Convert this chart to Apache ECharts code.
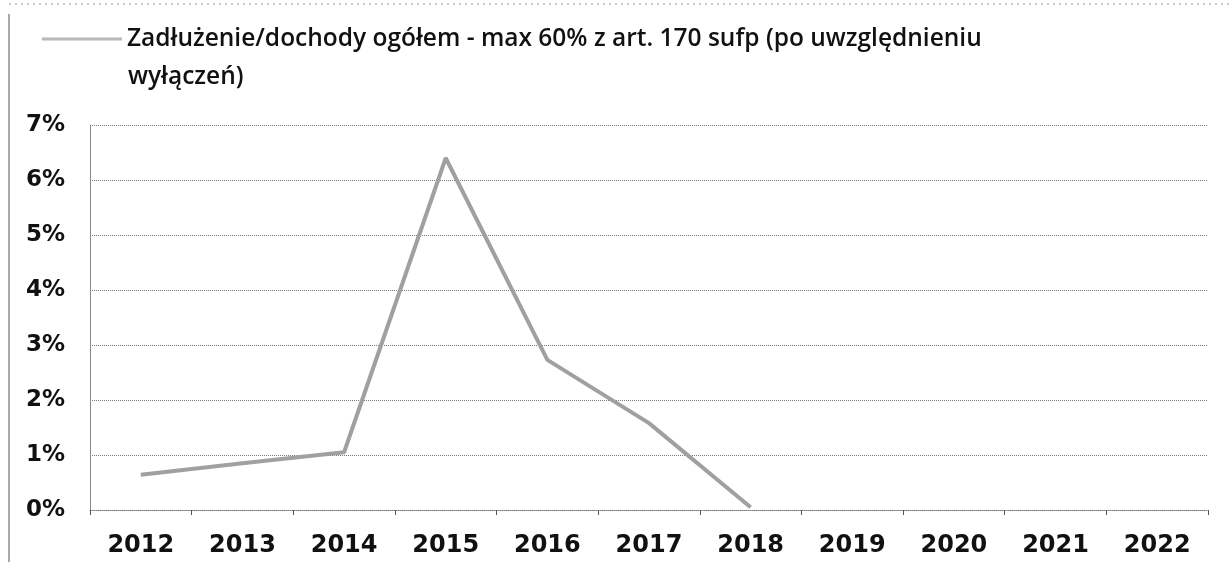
<!DOCTYPE html>
<html>
<head>
<meta charset="utf-8">
<script src="https://cdn.jsdelivr.net/npm/echarts@6/dist/echarts.min.js"></script>
<style>
  html, body { margin: 0; padding: 0; background: #fff; }
  #chart { width: 1232px; height: 562px; }
</style>
</head>
<body>
<div id="chart"></div>
<script>
const years = ['2012', '2013', '2014', '2015', '2016', '2017', '2018', '2019', '2020', '2021', '2022'];
const debtRatio = [0.0064, 0.0085, 0.0105, 0.064, 0.0273, 0.0158, 0.0005, null, null, null, null];
const seriesName = 'Zadłużenie/dochody ogółem - max 60% z art. 170 sufp (po uwzględnieniu';
const nameTail = 'wyłączeń)';

const chartDom = document.getElementById('chart');
const mychart = echarts.init(chartDom);

const titleFont = {
  fontFamily: 'Open Sans',
  fontWeight: 600,
  fontSize: 24.5,
  color: '#111',
  lineHeight: 28
};

const option = {
  animation: false,
  backgroundColor: '#fff',
  // second line of the wrapped legend entry
  title: {
    text: nameTail,
    left: 128,
    top: 63,
    padding: 0,
    textStyle: titleFont
  },
  legend: {
    data: [seriesName],
    left: 42,
    top: 25,
    padding: 0,
    itemWidth: 80,
    itemHeight: 3,
    itemGap: 6,
    icon: 'rect',
    itemStyle: { color: '#b8b8b8' },
    textStyle: titleFont
  },
  grid: {
    left: 90,
    right: 24,
    top: 125,
    bottom: 52,
    containLabel: false
  },
  xAxis: {
    type: 'category',
    data: years,
    boundaryGap: true,
    axisLine: { show: true, lineStyle: { color: '#777', type: 'dotted', width: 1 } },
    axisTick: { show: true, length: 5, lineStyle: { color: '#555' } },
    axisLabel: {
      margin: 24,
      fontFamily: 'DejaVu Sans',
      fontWeight: 'bold',
      fontSize: 24,
      color: '#111'
    },
    splitLine: { show: false }
  },
  yAxis: {
    type: 'value',
    min: 0,
    max: 0.07,
    interval: 0.01,
    axisLine: { show: true, lineStyle: { color: '#888', width: 1 } },
    axisTick: { show: false },
    axisLabel: {
      margin: 25,
      fontFamily: 'DejaVu Sans',
      fontWeight: 'bold',
      fontSize: 23,
      color: '#111',
      formatter: function (v) { return Math.round(v * 100) + '%'; }
    },
    splitLine: { show: true, lineStyle: { color: '#777', type: 'dotted', width: 1 } }
  },
  graphic: [
    { type: 'line', shape: { x1: 9, y1: 14, x2: 9, y2: 562 }, style: { stroke: '#555', lineWidth: 1 } },
    { type: 'line', shape: { x1: 9, y1: 4, x2: 1232, y2: 4 }, style: { stroke: '#999', lineWidth: 1, lineDash: [2, 4] } }
  ],
  series: [{
    name: seriesName,
    type: 'line',
    data: debtRatio,
    symbol: 'none',
    connectNulls: false,
    lineStyle: { color: '#a0a0a0', width: 4 },
    itemStyle: { color: '#a0a0a0' }
  }]
};

mychart.setOption(option);
</script>
</body>
</html>
